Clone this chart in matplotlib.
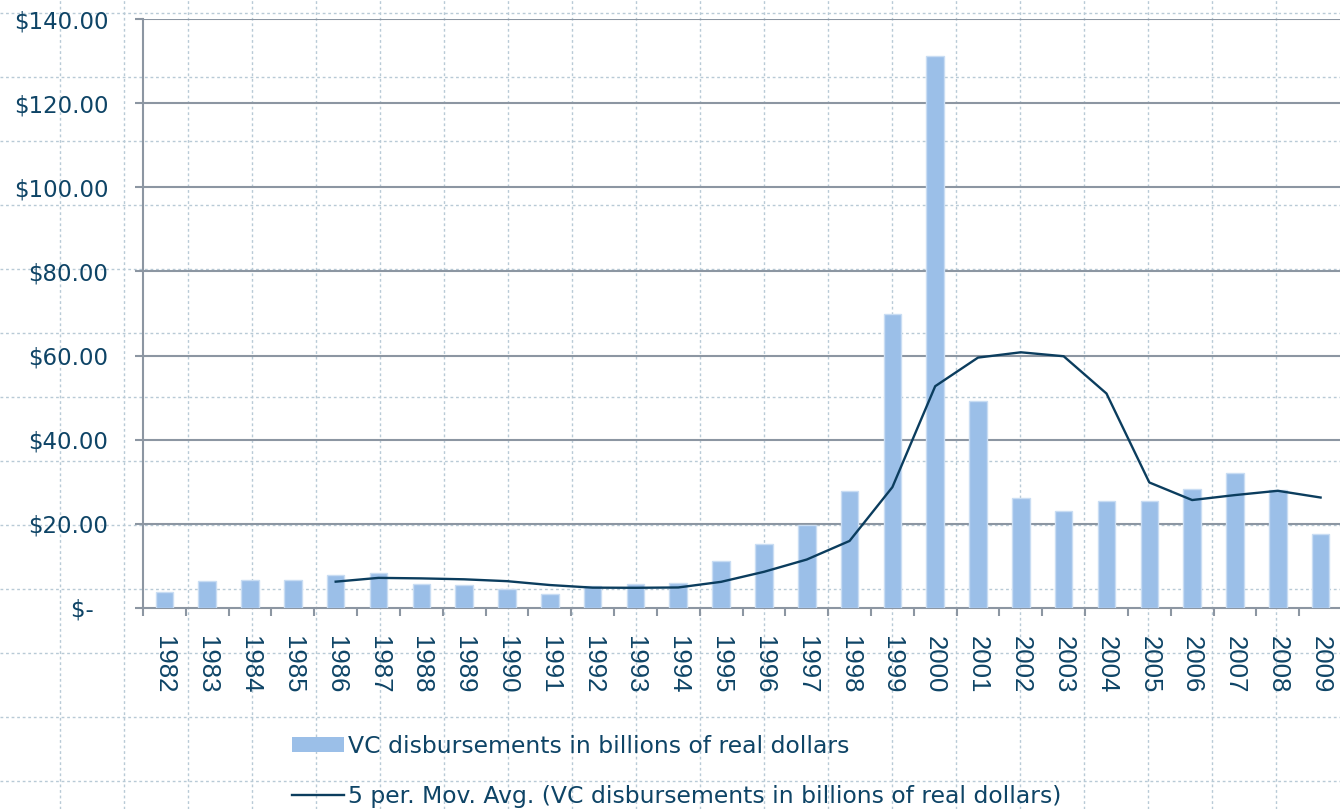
import matplotlib
matplotlib.use("Agg")
import matplotlib.pyplot as plt
from matplotlib.lines import Line2D
from matplotlib.patches import Patch
from matplotlib import font_manager
import numpy as np
import pandas as pd

years = [str(y) for y in range(1982, 2010)]
vc_disbursements = [3.8, 6.4, 6.6, 6.6, 7.9, 8.3, 5.8, 5.5, 4.4, 3.3,
                    5.2, 5.6, 5.9, 11.1, 15.2, 19.8, 27.7, 69.8, 131.1, 49.2,
                    26.1, 23.0, 25.5, 25.4, 28.3, 32.0, 28.1, 17.5]
y_ticks = [0, 20, 40, 60, 80, 100, 120, 140]
y_tick_labels = ["$-  ", "$20.00", "$40.00", "$60.00", "$80.00", "$100.00", "$120.00", "$140.00"]
bar_label = "VC disbursements in billions of real dollars"
ma_label = "5 per. Mov. Avg. (VC disbursements in billions of real dollars)"

# 5-period trailing moving average of the bar series (as in the original trendline)
moving_avg = pd.Series(vc_disbursements).rolling(5).mean().to_numpy()

W, H = 1340, 809
fig = plt.figure(figsize=(W / 100, H / 100), dpi=100)
fig.patch.set_facecolor("white")

txt_color = "#0e4466"
grid_gray = "#8c96a2"
dot_color = "#b8cad6"
font = "DejaVu Sans"

available = {f.name for f in font_manager.fontManager.ttflist}
if "Liberation Sans Narrow" in available:
    year_font, year_size = "Liberation Sans Narrow", 20
else:
    year_font, year_size = "Liberation Sans", 18.5

# background sheet-style dotted grid over the whole figure
for xp in np.arange(60, W, 64):
    fig.add_artist(Line2D([xp / W, xp / W], [0, 1], transform=fig.transFigure,
                          color=dot_color, lw=1.0, ls=(0, (2, 2)), zorder=0))
for yp in np.arange(13, H, 64):
    fig.add_artist(Line2D([0, 1], [1 - yp / H, 1 - yp / H], transform=fig.transFigure,
                          color=dot_color, lw=1.0, ls=(0, (2, 2)), zorder=0))

left_px, right_px, top_px, bot_px = 143, 1342, 19, 608
ax = fig.add_axes([left_px / W, 1 - bot_px / H, (right_px - left_px) / W, (bot_px - top_px) / H])
ax.set_facecolor("none")
ax.set_zorder(2)

x = np.arange(len(years))
ax.bar(x, vc_disbursements, width=0.41, color="#9bbfe8", edgecolor="#c9ddf3",
       linewidth=1.0, zorder=3)
ax.plot(x, moving_avg, color="#0b3d5e", lw=1.7, zorder=4)

ax.set_xlim(-0.5, len(years) - 0.5)
ax.set_ylim(0, 140)

# y axis
ax.set_yticks(y_ticks)
ax.set_yticklabels(y_tick_labels, fontsize=16.5, color=txt_color, family=font)
ax.tick_params(axis="y", length=6, width=1.5, color=grid_gray, pad=19, direction="out")
for yv in y_ticks[1:]:
    ax.axhline(yv, color=grid_gray, lw=1.5, zorder=1)

# x axis: ticks at category boundaries, labels at centers
ax.set_xticks(np.arange(-0.5, len(years) + 0.5, 1.0))
ax.set_xticklabels([])
ax.tick_params(axis="x", which="major", length=6, width=1.5, color=grid_gray, direction="out")
ax.set_xticks(x, minor=True)
ax.set_xticklabels(years, minor=True, rotation=-90, fontsize=year_size, color=txt_color,
                   family=year_font, va="top", ha="center")
ax.tick_params(axis="x", which="minor", length=0, pad=20)

for s in ["top", "right"]:
    ax.spines[s].set_visible(False)
for s in ["left", "bottom"]:
    ax.spines[s].set_color(grid_gray)
    ax.spines[s].set_linewidth(1.5)

handles = [Patch(facecolor="#9bbfe8", edgecolor="none"),
           Line2D([0], [0], color="#0b3d5e", lw=1.7)]
leg = fig.legend(handles, [bar_label, ma_label], loc="upper left",
                 bbox_to_anchor=(292 / W, 1 - 735 / H), frameon=False,
                 prop={"family": font, "size": 16.9}, handlelength=2.2,
                 handleheight=0.6, handletextpad=0.17, labelspacing=1.15,
                 borderaxespad=0, borderpad=0)
for t in leg.get_texts():
    t.set_color(txt_color)

fig.savefig("out.png", dpi=100, facecolor="white")
